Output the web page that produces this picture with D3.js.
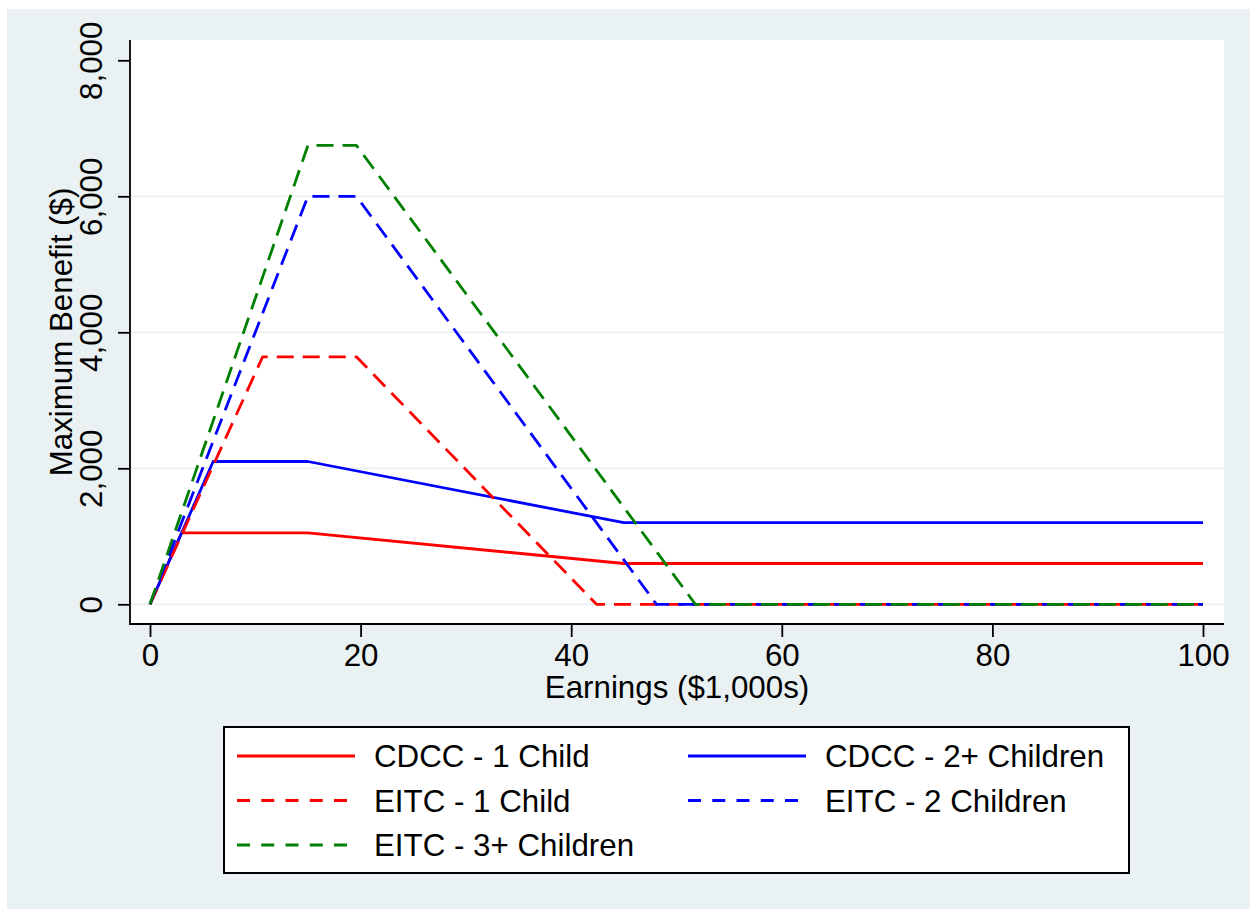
<!DOCTYPE html>
<html>
<head>
<meta charset="utf-8">
<script src="https://cdn.jsdelivr.net/npm/d3@7"></script>
<style>
  html, body { margin: 0; padding: 0; background: #ffffff; }
  svg { display: block; }
  text { font-family: "Liberation Sans", Arial, sans-serif; fill: #000; }
</style>
</head>
<body>
<svg id="chart" width="1250" height="909"></svg>
<script>
// ---- Data (earnings in $1,000s, benefit in $) ----
const xTicks = [0, 20, 40, 60, 80, 100];
const yTicks = [0, 2000, 4000, 6000, 8000];
const yGrid = [0, 2000, 4000, 6000];

const cdcc1Earn = [0, 3, 15, 45, 100];
const cdcc1Val  = [0, 1050, 1050, 600, 600];

const cdcc2Earn = [0, 6, 15, 45, 100];
const cdcc2Val  = [0, 2100, 2100, 1200, 1200];

const eitc1Earn = [0, 10.7, 19.6, 42.4, 100];
const eitc1Val  = [0, 3640, 3640, 0, 0];

const eitc2Earn = [0, 15, 19.6, 48.1, 100];
const eitc2Val  = [0, 6000, 6000, 0, 0];

const eitc3Earn = [0, 15, 19.6, 51.8, 100];
const eitc3Val  = [0, 6750, 6750, 0, 0];

const seriesNames = ["CDCC - 1 Child", "CDCC - 2+ Children", "EITC - 1 Child", "EITC - 2 Children", "EITC - 3+ Children"];
const seriesColors = ["#ff0000", "#0000ff", "#ff0000", "#0000ff", "#008000"];
const seriesDashed = [false, false, true, true, true];
const seriesEarn = [cdcc1Earn, cdcc2Earn, eitc1Earn, eitc2Earn, eitc3Earn];
const seriesVal = [cdcc1Val, cdcc2Val, eitc1Val, eitc2Val, eitc3Val];

// ---- Layout ----
const svg = d3.select("#chart");
const bg = "#eaf1f3";
const plotL = 130, plotR = 1224, plotT = 40, plotB = 624;

svg.append("rect").attr("x", 7).attr("y", 9).attr("width", 1243).attr("height", 900).attr("fill", bg);
svg.append("rect").attr("x", plotL).attr("y", plotT).attr("width", plotR - plotL).attr("height", plotB - plotT).attr("fill", "#ffffff");

const x = d3.scaleLinear().domain([0, 100]).range([150, 1203]);
const y = d3.scaleLinear().domain([0, 8000]).range([604.3, 60.3]);

// gridlines
svg.append("g").selectAll("line").data(yGrid).join("line")
  .attr("x1", plotL).attr("x2", plotR)
  .attr("y1", d => y(d)).attr("y2", d => y(d))
  .attr("stroke", bg).attr("stroke-width", 2);

// series
const line = d3.line().x(d => x(d[0])).y(d => y(d[1]));
seriesNames.forEach((name, i) => {
  const pts = seriesEarn[i].map((e, j) => [e, seriesVal[i][j]]);
  svg.append("path").datum(pts)
    .attr("d", line)
    .attr("fill", "none")
    .attr("stroke", seriesColors[i])
    .attr("stroke-width", 2.8)
    .attr("stroke-linejoin", "round")
    .attr("stroke-dasharray", seriesDashed[i] ? "17,9" : null);
});

// axes
const fontSize = 31.3;
const xAxis = d3.axisBottom(x).tickValues(xTicks).tickSizeOuter(0).tickSize(13).tickPadding(7).tickFormat(d3.format("d"));
const gx = svg.append("g").attr("transform", `translate(0,${plotB})`).call(xAxis);
gx.select(".domain").remove();
gx.selectAll(".tick line").attr("stroke", "#000").attr("stroke-width", 1.8);
gx.selectAll(".tick text").attr("font-size", fontSize).attr("font-family", "Liberation Sans, Arial, sans-serif").attr("fill", "#000");

const yAxis = d3.axisLeft(y).tickValues(yTicks).tickSizeOuter(0).tickSize(12).tickFormat(d3.format(","));
const gy = svg.append("g").attr("transform", `translate(${plotL},0)`).call(yAxis);
gy.select(".domain").remove();
gy.selectAll(".tick line").attr("stroke", "#000").attr("stroke-width", 1.8);
gy.selectAll(".tick text")
  .attr("font-size", fontSize)
  .attr("font-family", "Liberation Sans, Arial, sans-serif")
  .attr("fill", "#000")
  .attr("x", null).attr("dy", null)
  .attr("text-anchor", "middle")
  .attr("transform", "translate(-28,0) rotate(-90)");

// axis lines
svg.append("line").attr("x1", plotL).attr("x2", plotL).attr("y1", plotT).attr("y2", plotB + 1)
  .attr("stroke", "#000").attr("stroke-width", 1.8);
svg.append("line").attr("x1", plotL - 1).attr("x2", plotR).attr("y1", plotB).attr("y2", plotB)
  .attr("stroke", "#000").attr("stroke-width", 1.8);

// axis titles
svg.append("text").attr("x", (plotL + plotR) / 2).attr("y", 698)
  .attr("text-anchor", "middle").attr("font-size", fontSize).text("Earnings ($1,000s)");
svg.append("text").attr("transform", `translate(72,${(plotT + plotB) / 2}) rotate(-90)`)
  .attr("text-anchor", "middle").attr("font-size", fontSize).text("Maximum Benefit ($)");

// legend
svg.append("rect").attr("x", 224).attr("y", 727).attr("width", 905).attr("height", 146)
  .attr("fill", "#ffffff").attr("stroke", "#000").attr("stroke-width", 2);
const legCols = [237, 688];
const legRows = [756, 800.5, 845];
seriesNames.forEach((name, i) => {
  const cx = legCols[i % 2], cy = legRows[Math.floor(i / 2)];
  svg.append("line").attr("x1", cx).attr("x2", cx + 118).attr("y1", cy).attr("y2", cy)
    .attr("stroke", seriesColors[i]).attr("stroke-width", 2.8)
    .attr("stroke-dasharray", seriesDashed[i] ? "13,11.25" : null);
  svg.append("text").attr("x", cx + 137).attr("y", cy + 11.2)
    .attr("font-size", fontSize).text(name);
});
</script>
</body>
</html>
